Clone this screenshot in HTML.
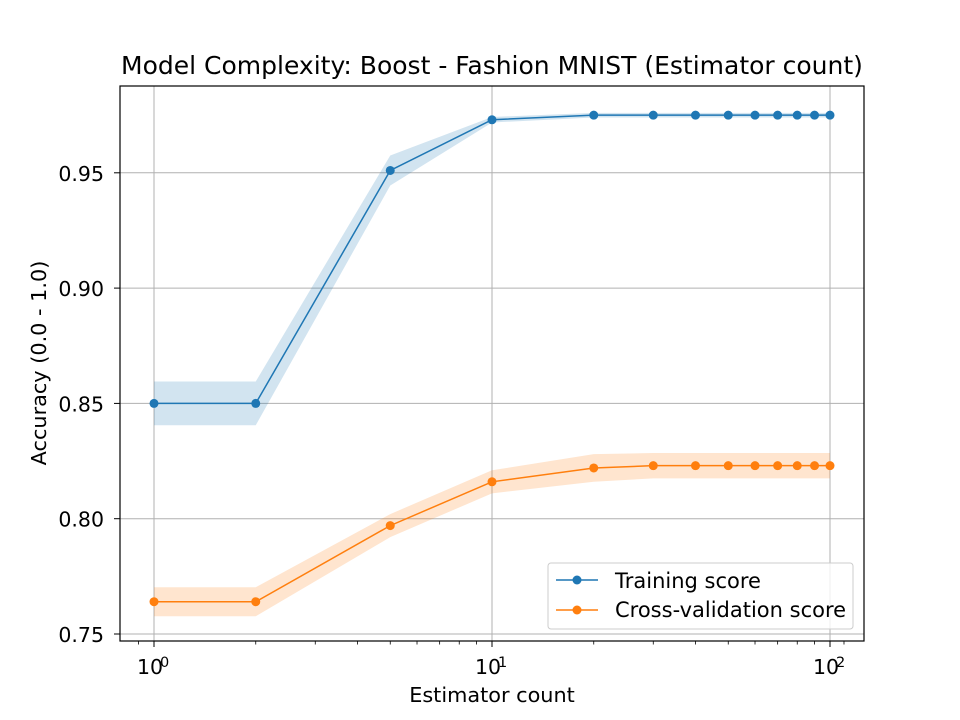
<!DOCTYPE html>
<html><head><meta charset="utf-8"><style>body{margin:0;background:#fff}svg{display:block;font-family:"DejaVu Sans","Liberation Sans",sans-serif}</style></head>
<body>
<svg id="chart" width="960" height="720" xmlns="http://www.w3.org/2000/svg">
<rect width="960" height="720" fill="#fff"/>
<g id="grid"></g><g id="bands"></g><g id="lines"></g><g id="axes"></g>
<text x="492" y="74" font-size="25" text-anchor="middle">Model Complexity: Boost - Fashion MNIST (Estimator count)</text>
<text x="492" y="702" font-size="20.8" text-anchor="middle">Estimator count</text>
<text transform="translate(46,363) rotate(-90)" font-size="20.8" text-anchor="middle">Accuracy (0.0 - 1.0)</text>
<g>
<rect x="548" y="563" width="305" height="66" rx="3" fill="#fff" fill-opacity="0.8" stroke="#ccc"/>
<line x1="556" y1="580" x2="598" y2="580" stroke="#1f77b4" stroke-width="1.5"/><circle cx="577" cy="580" r="4.5" fill="#1f77b4"/>
<text x="615" y="588" font-size="21">Training score</text>
<line x1="556" y1="610" x2="598" y2="610" stroke="#ff7f0e" stroke-width="1.5"/><circle cx="577" cy="610" r="4.5" fill="#ff7f0e"/>
<text x="615" y="617" font-size="21">Cross-validation score</text>
</g>
</svg>
<script>
const estimators=[1,2,5,10,20,30,40,50,60,70,80,90,100];
const trainMean=[0.850,0.850,0.951,0.973,0.975,0.975,0.975,0.975,0.975,0.975,0.975,0.975,0.975];
const trainStd=[0.0095,0.0095,0.0065,0.0012,0.001,0.001,0.001,0.001,0.001,0.001,0.001,0.001,0.001];
const cvMean=[0.764,0.764,0.797,0.816,0.822,0.823,0.823,0.823,0.823,0.823,0.823,0.823,0.823];
const cvStd=[0.0063,0.0063,0.0050,0.0050,0.0060,0.0055,0.0055,0.0055,0.0055,0.0055,0.0055,0.0055,0.0055];
const yTicks=[0.75,0.80,0.85,0.90,0.95];
const xTicks=[1,10,100];
const xTickLabels=["0","1","2"];
const NS="http://www.w3.org/2000/svg";
const L=120,R=864,T=86,B=641;
const X=v=>154+338*Math.log10(v);
const Y=v=>634-(v-0.75)*2306;
function mk(p,t,a){const e=document.createElementNS(NS,t);for(const k in a)e.setAttribute(k,a[k]);document.getElementById(p).appendChild(e);return e;}
xTicks.forEach(v=>{const g=mk('grid','line',{x1:X(v),x2:X(v),y1:T,y2:B,stroke:'#b0b0b0','stroke-width':1});

});
yTicks.forEach(v=>{const g=mk('grid','line',{x1:L,x2:R,y1:Y(v),y2:Y(v),stroke:'#b0b0b0','stroke-width':1});

});
function band(m,s,c,n){let up=estimators.map((x,i)=>X(x)+','+Y(m[i]+s[i]));let dn=estimators.map((x,i)=>X(x)+','+Y(m[i]-s[i])).reverse();
const p=mk('bands','polygon',{points:up.concat(dn).join(' '),fill:c,'fill-opacity':0.2});

}
band(trainMean,trainStd,'#1f77b4','training-band');band(cvMean,cvStd,'#ff7f0e','cv-band');
function line(m,c,n){const p=mk('lines','polyline',{points:estimators.map((x,i)=>X(x)+','+Y(m[i])).join(' '),fill:'none',stroke:c,'stroke-width':1.5});


estimators.forEach((x,i)=>{const d=mk('lines','circle',{cx:X(x),cy:Y(m[i]),r:4.5,fill:c});

});}
line(trainMean,'#1f77b4','training');line(cvMean,'#ff7f0e','cv');
const f=mk('axes','rect',{x:L,y:T,width:R-L,height:B-T,fill:'none',stroke:'#000','stroke-width':1.2});


yTicks.forEach(v=>{mk('axes','line',{x1:L-6,x2:L,y1:Y(v),y2:Y(v),stroke:'#000'});
const t=mk('axes','text',{x:L-16,y:Y(v)+8,'font-size':20.5,'text-anchor':'end'});t.textContent=v.toFixed(2);

});
xTicks.forEach((v,i)=>{mk('axes','line',{x1:X(v),x2:X(v),y1:B,y2:B+6,stroke:'#000'});
const t=mk('axes','text',{x:X(v)-17,y:674,'font-size':20.5});t.textContent='10';


const s=mk('axes','text',{x:X(v)+6,y:667,'font-size':14.5});s.textContent=xTickLabels[i];

});
[0.9,2,3,4,5,6,7,8,9,20,30,40,50,60,70,80,90,110].forEach(v=>{if(X(v)>L&&X(v)<R)mk('axes','line',{x1:X(v),x2:X(v),y1:B,y2:B+3.5,stroke:'#000','stroke-width':0.8});});
</script>
</body></html>
